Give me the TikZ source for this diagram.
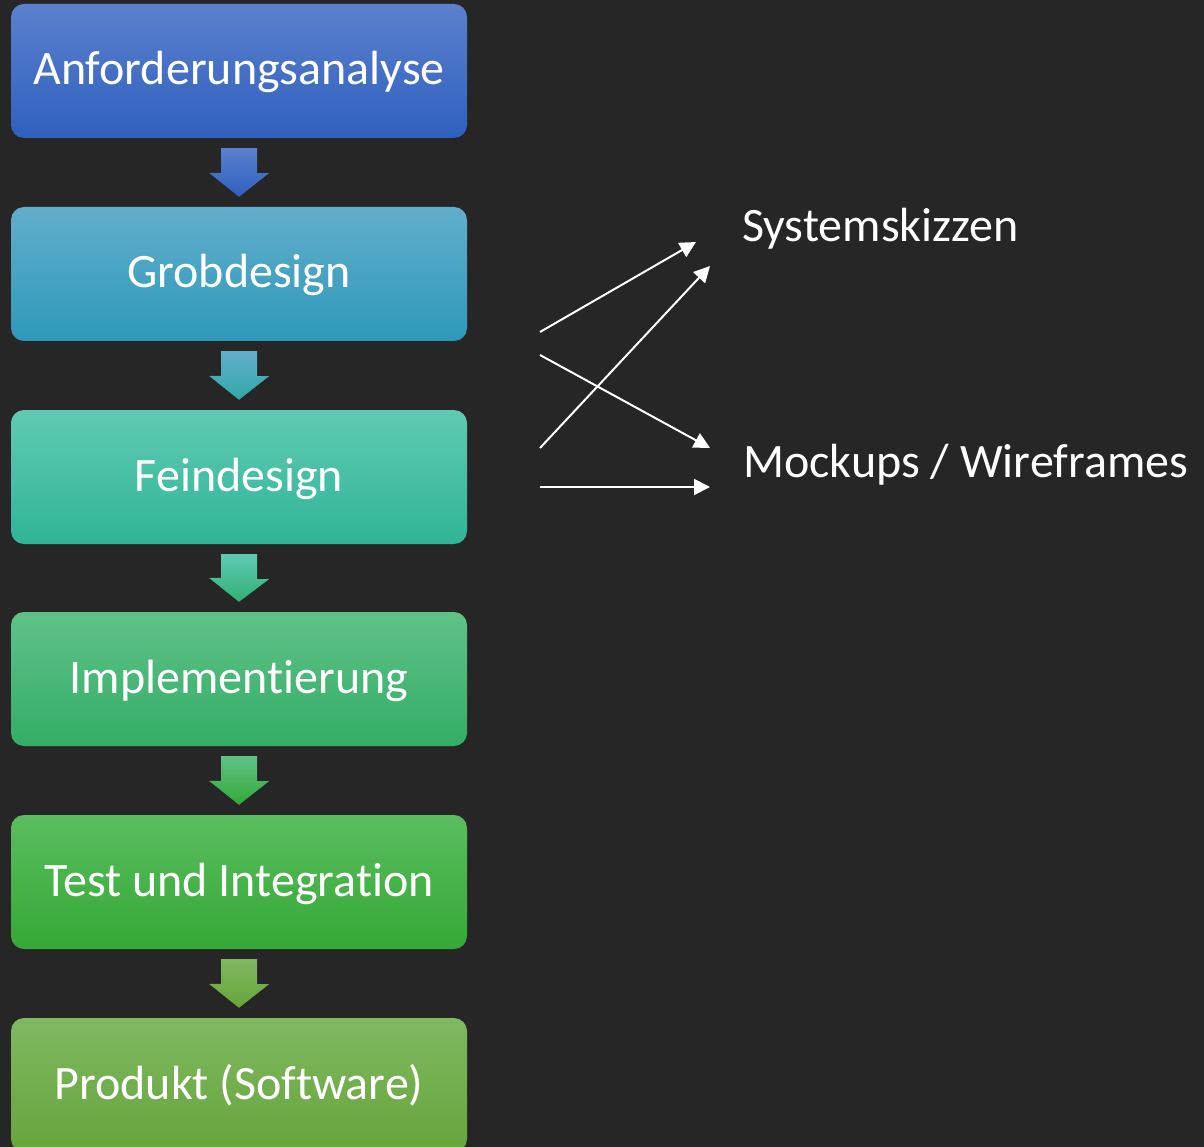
\documentclass[tikz,border=0pt]{standalone}
\usepackage{fontspec}
\setmainfont{Carlito}[RawFeature=-liga]
\usetikzlibrary{arrows.meta,calc}

\definecolor{bg}{HTML}{262626}
\definecolor{aTop}{HTML}{5B80CE}\definecolor{aBot}{HTML}{2F60BE}
\definecolor{bTop}{HTML}{62AECB}\definecolor{bBot}{HTML}{2E98BA}
\definecolor{cTop}{HTML}{5FCAB2}\definecolor{cBot}{HTML}{30B597}
\definecolor{dTop}{HTML}{5FC288}\definecolor{dBot}{HTML}{33AD66}
\definecolor{eTop}{HTML}{5ABD5E}\definecolor{eBot}{HTML}{34A936}
\definecolor{fTop}{HTML}{80B862}\definecolor{fBot}{HTML}{66A53A}

\tikzset{
  stage/.style={rectangle, rounded corners=13pt, minimum width=456pt,
    minimum height=134pt, inner sep=0pt, text=white,
    font=\fontsize{48}{58}\selectfont, text height=36pt, text depth=8pt},
  sidelabel/.style={anchor=base west, inner sep=0pt, text=white,
    font=\fontsize{48}{58}\selectfont},
  link/.style={draw=white, line width=2pt,
    -{Triangle[length=16pt,width=16pt]}},
}

% block arrow from the bottom of one stage to the top of the next
\newcommand\stagearrow[4]{%
  \path[top color=#3, bottom color=#4]
    ($(#1.south)+(-18,10)$) -- ++(36,0) -- ++(0,25) -- ++(12,0)
    -- ($(#2.north)+(0,-10)$) -- ++(-30,-24) -- ++(12,0) -- cycle;}

\begin{document}
\begin{tikzpicture}[x=1pt,y=-1pt]
\useasboundingbox (0,0) rectangle (1204,1147);
\clip (0,0) rectangle (1204,1147);
\fill[bg] (0,0) rectangle (1204,1147);

% process stages
\node[stage, top color=aTop, bottom color=aBot] (s1) at (239,71)   {Anforderungsanalyse};
\node[stage, top color=bTop, bottom color=bBot] (s2) at (239,274)  {Grobdesign};
\node[stage, top color=cTop, bottom color=cBot] (s3) at (239,477)  {Feindesign};
\node[stage, top color=dTop, bottom color=dBot] (s4) at (239,679)  {Implementierung};
\node[stage, top color=eTop, bottom color=eBot] (s5) at (239,882)  {Test und Integration};
\node[stage, top color=fTop, bottom color=fBot] (s6) at (239,1085) {Produkt (Software)};

% block arrows between the stages
\stagearrow{s1}{s2}{aTop}{aBot}
\stagearrow{s2}{s3}{bTop}{cBot!60!bBot}
\stagearrow{s3}{s4}{cTop}{dBot!70!cBot}
\stagearrow{s4}{s5}{dTop}{eBot}
\stagearrow{s5}{s6}{fTop}{fBot}

% design artefacts
\node[sidelabel] (sys)  at (742,242) {Systemskizzen};
\node[sidelabel] (mock) at (743,477) {Mockups / Wireframes};

% connector end points
\coordinate (g1) at (540,332);
\coordinate (g2) at (540,355);
\coordinate (f1) at (540,448);
\coordinate (f2) at (540,487);
\coordinate (sysA) at (696,242);
\coordinate (sysB) at (710,266);
\coordinate (mockA) at (710,448);
\coordinate (mockB) at (710,487);

\draw[link] (g1) -- (sysA);
\draw[link] (g2) -- (mockA);
\draw[link] (f1) -- (sysB);
\draw[link] (f2) -- (mockB);
\end{tikzpicture}
\end{document}
